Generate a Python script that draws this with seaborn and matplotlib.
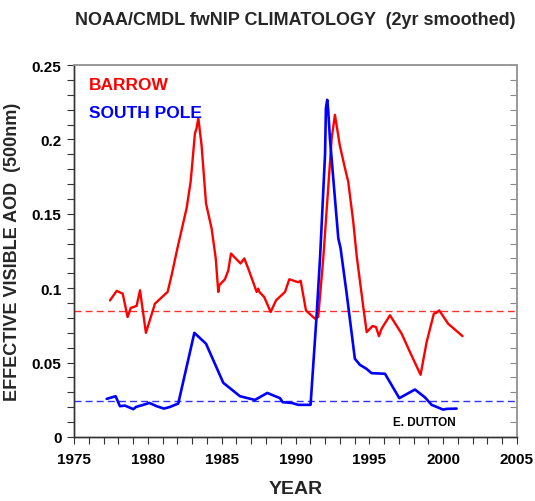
import numpy as np
import pandas as pd
import matplotlib
matplotlib.use('Agg')
import matplotlib.pyplot as plt
from matplotlib.ticker import MultipleLocator
import seaborn as sns

# data
barrow_year = [1977.44, 1977.89, 1978.3, 1978.63, 1978.84, 1979.24, 1979.47, 1979.58, 1979.87, 1980.48,
               1981.34, 1981.61, 1982.0, 1982.63, 1982.9, 1983.19, 1983.3, 1983.42, 1983.64, 1983.94,
               1984.32, 1984.6, 1984.77, 1984.84, 1985.22, 1985.45, 1985.63, 1986.28, 1986.53, 1986.8,
               1987.37, 1987.48, 1987.55, 1987.88, 1988.32, 1988.68, 1989.29, 1989.58, 1990.19, 1990.35,
               1990.71, 1991.32, 1991.54, 1991.88, 1992.45, 1992.67, 1993.0, 1993.35, 1993.57, 1993.91,
               1994.14, 1994.59, 1994.82, 1995.22, 1995.45, 1995.65, 1995.83, 1996.4, 1997.19, 1997.75,
               1998.47, 1998.88, 1999.37, 1999.56, 1999.73, 2000.34, 2000.68, 2001.31]
barrow_aod = [0.0918, 0.0982, 0.0963, 0.0806, 0.0867, 0.0881, 0.0986, 0.0907, 0.070, 0.0896,
              0.0975, 0.1087, 0.1267, 0.154, 0.1716, 0.204, 0.2075, 0.2143, 0.196, 0.157,
              0.140, 0.12, 0.0975, 0.102, 0.106, 0.112, 0.1233, 0.1166, 0.12, 0.1132,
              0.0975, 0.0997, 0.0975, 0.0941, 0.084, 0.0918, 0.0975, 0.106, 0.104, 0.105,
              0.085, 0.0795, 0.0807, 0.12, 0.2008, 0.2165, 0.196, 0.1806, 0.1716, 0.1447,
              0.122, 0.0874, 0.0705, 0.0746, 0.0739, 0.0678, 0.0728, 0.0818, 0.0694, 0.0571,
              0.0418, 0.0638, 0.0829, 0.0836, 0.0851, 0.0761, 0.0732, 0.0678]

spo_year = [1977.21, 1977.82, 1978.11, 1978.45, 1979.02, 1979.2, 1979.69, 1980.1, 1980.6, 1981.09,
            1981.5, 1982.06, 1983.15, 1983.94, 1985.11, 1986.24, 1987.25, 1988.09, 1988.95, 1989.13,
            1989.74, 1990.19, 1991.02, 1991.43, 1991.66, 1992.0, 1992.06, 1992.15, 1992.22, 1992.33,
            1992.67, 1992.9, 1993.05, 1993.45, 1994.02, 1994.36, 1994.81, 1995.15, 1996.06, 1997.03,
            1998.09, 1998.76, 1999.22, 2000.0, 2000.23, 2000.91]
spo_aod = [0.0256, 0.0274, 0.0207, 0.0211, 0.0187, 0.0202, 0.0216, 0.0229, 0.0207, 0.0191,
           0.0202, 0.0225, 0.070, 0.0627, 0.0364, 0.0274, 0.0249, 0.0296, 0.0261, 0.0234,
           0.0229, 0.0216, 0.0216, 0.0818, 0.12, 0.1896, 0.221, 0.2266, 0.2188, 0.2008,
           0.1604, 0.1334, 0.127, 0.0975, 0.0526, 0.0485, 0.0458, 0.0429, 0.0425, 0.0261,
           0.0319, 0.0267, 0.0216, 0.0184, 0.0189, 0.0191]

barrow_mean = 0.085
spo_mean = 0.0243

sns.set_style('ticks')
plt.rcParams['font.family'] = ['Liberation Sans', 'DejaVu Sans']
plt.rcParams['font.weight'] = 'bold'

dfBarrow = pd.DataFrame({'year': barrow_year, 'aod': barrow_aod})
dfSpo = pd.DataFrame({'year': spo_year, 'aod': spo_aod})

fig = plt.figure(figsize=(5.35, 5.02), dpi=100)
ax = fig.add_axes([74/535, 64/502, 443/535, 372/502])

ax.axhline(barrow_mean, color='#ff3030', linestyle=(0, (5, 3)), linewidth=1.0)
ax.axhline(spo_mean, color='#3030ff', linestyle=(0, (5, 3)), linewidth=1.0)

sns.lineplot(data=dfBarrow, x='year', y='aod', sort=False, estimator=None,
             color='#ff0000', linewidth=1.7, ax=ax)
sns.lineplot(data=dfSpo, x='year', y='aod', sort=False, estimator=None,
             color='#0000ff', linewidth=1.9, ax=ax)

ax.set_xlim(1975, 2005)
ax.set_ylim(0, 0.25)
ax.xaxis.set_major_locator(MultipleLocator(5))
ax.xaxis.set_minor_locator(MultipleLocator(1))
ax.yaxis.set_minor_locator(MultipleLocator(0.01))
ax.set_yticks([0, 0.05, 0.1, 0.15, 0.2, 0.25])
ax.set_yticklabels(['0', '0.05', '0.1', '0.15', '0.2', '0.25'])

ax.tick_params(axis='x', which='both', direction='out', length=5, width=0.8,
               labelsize=11, pad=6, colors='#333333', labelcolor='black')
ax.tick_params(axis='y', which='both', direction='out', length=5, width=0.8,
               labelsize=11, pad=4, colors='#333333', labelcolor='black')

# inward ticks on the right side
axr = ax.twinx()
axr.set_ylim(0, 0.25)
axr.yaxis.set_major_locator(MultipleLocator(0.05))
axr.yaxis.set_minor_locator(MultipleLocator(0.01))
axr.tick_params(axis='y', which='both', direction='in', length=5, width=0.8,
                labelright=False, colors='#888888')

for a in (ax, axr):
    for side in ['left', 'bottom']:
        a.spines[side].set_color('#333333')
        a.spines[side].set_linewidth(1.0)
    for side in ['top', 'right']:
        a.spines[side].set_visible(True)
        a.spines[side].set_color('#999999')
        a.spines[side].set_linewidth(1.2)

ax.set_xlabel('YEAR', fontsize=14, fontweight='bold', labelpad=10)
ax.set_ylabel('EFFECTIVE VISIBLE AOD  (500nm)', fontsize=13, fontweight='bold', labelpad=8)

ax.text(0.034, 0.947, 'BARROW', color='#ff0000', fontsize=12.5, fontweight='bold',
        transform=ax.transAxes, va='center')
ax.text(0.034, 0.872, 'SOUTH POLE', color='#0000ff', fontsize=12.5, fontweight='bold',
        transform=ax.transAxes, va='center')
ax.text(0.72, 0.04, 'E. DUTTON', color='black', fontsize=8.5, fontweight='bold',
        transform=ax.transAxes, va='center')

fig.text(0.552, 0.96, 'NOAA/CMDL fwNIP CLIMATOLOGY  (2yr smoothed)', ha='center', va='center',
         fontsize=13, fontweight='bold')

fig.savefig('out.png', dpi=100)
